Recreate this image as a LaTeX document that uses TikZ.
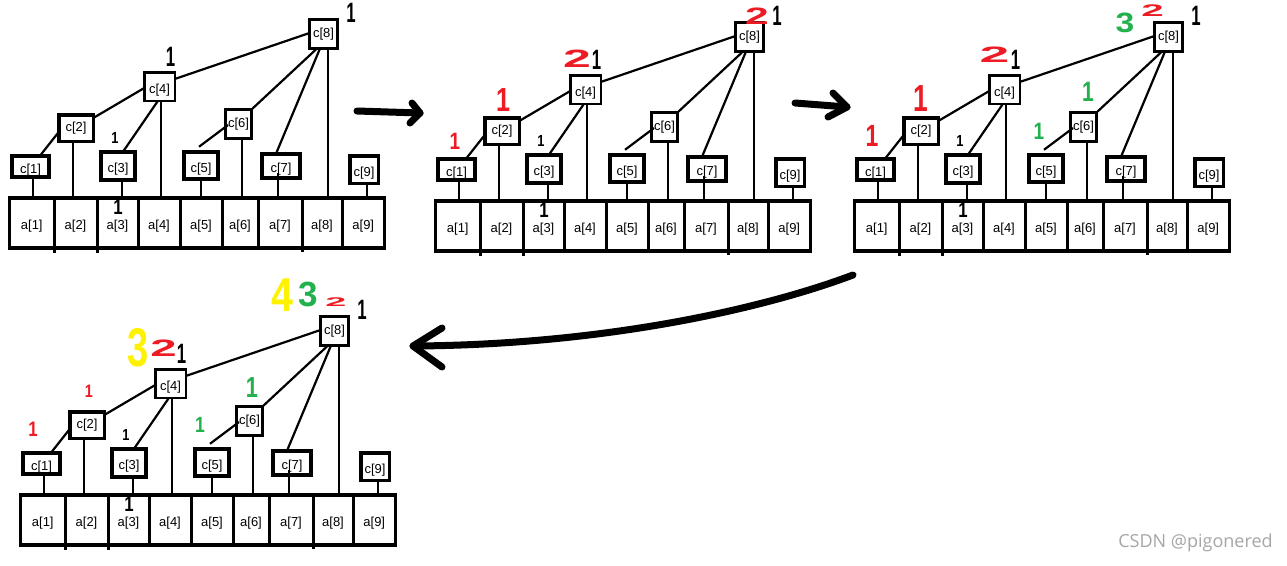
\documentclass[tikz,border=0pt]{standalone}
\usepackage{fontspec}
\usepackage{graphicx}
\setmainfont{Liberation Sans}
\newfontfamily\wmfont{Open Sans}
\newfontfamily\handfont{Liberation Sans}
\newcommand\hfs[1]{\handfont\bfseries\fontsize{#1}{#1}\selectfont}
\definecolor{pred}{RGB}{237,28,36}
\definecolor{pgreen}{RGB}{34,177,76}
\definecolor{pyellow}{RGB}{255,242,0}
\tikzset{
  acell/.style={draw, line width=3pt, rectangle, minimum height=50pt, inner sep=0pt, outer sep=0pt,
    font=\fontsize{13}{13}\selectfont, text height=12pt, text depth=0pt},
  cbox/.style={draw, line width=3.5pt, rectangle, inner sep=0pt, outer sep=0pt,
    font=\fontsize{13}{13}\selectfont},
  lowtext/.style={text height=13pt, text depth=0pt},
  link/.style={line width=2.2pt},
  hwmark/.style={inner sep=0pt, outer sep=0pt},
  bigarrow/.style={line width=7pt, line cap=round, line join=round},
}
\newcommand\hw[7]{\node[hwmark, text=#2, font=\hfs{#5}] (#1) at (#3,#4) {\scalebox{#6}[1]{#7}};}
\newcommand\fwpanel[3]{%
\begin{scope}[shift={(#2,#3)}]
  \foreach \i/\l/\r in {1/9.5/54,2/54/97,3/97/138,4/138/180,5/180/222,6/222/258,7/258/302,8/302/342,9/342/384.5}
    \node[acell, minimum width={(\r-\l)*1pt}] (#1a\i) at ({(\l+\r)/2},223) {a[\i]};
  \draw[line width=3.5pt] (#1a1.north west) rectangle (#1a9.south east);
  \draw[line width=3pt] (#1a1.south east) -- ++(0,5);
  \draw[line width=3pt] (#1a2.south east) -- ++(0,5);
  \draw[line width=3pt] (#1a7.south east) -- ++(0,4);
  \node[cbox, line width=4pt, minimum width=37.5pt, minimum height=21.5pt, lowtext] (#1c1) at (30.5,166.5) {c[1]};
  \node[cbox, minimum width=34.5pt, minimum height=26.5pt] (#1c2) at (76,128) {c[2]};
  \node[cbox, line width=4pt, minimum width=34.5pt, minimum height=28.5pt, lowtext] (#1c3) at (118,166) {c[3]};
  \node[cbox, line width=2.5pt, minimum width=30.5pt, minimum height=28.5pt, lowtext] (#1c4) at (159.5,86.5) {c[4]};
  \node[cbox, line width=4pt, minimum width=34.5pt, minimum height=27.5pt, lowtext] (#1c5) at (201,165.5) {c[5]};
  \node[cbox, line width=3pt, minimum width=26pt, minimum height=29pt] (#1c6) at (238.5,124) {c[6]};
  \node[cbox, line width=4pt, minimum width=38.5pt, minimum height=24.5pt, lowtext] (#1c7) at (281,166) {c[7]};
  \node[cbox, line width=3pt, minimum width=28pt, minimum height=29pt] (#1c8) at (323.5,34) {c[8]};
  \node[cbox, minimum width=28.5pt, minimum height=27.5pt, lowtext] (#1c9) at (364,169.5) {c[9]};
  % vertical links c[i] -> a[i]
  \draw[link] ([xshift=2.5pt]#1c1.south) -- ([xshift=1.25pt]#1a1.north);
  \draw[link] ([xshift=-3pt]#1c2.south) -- ([xshift=-2.5pt]#1a2.north);
  \draw[link] ([xshift=4pt]#1c3.south) -- ([xshift=4.5pt]#1a3.north);
  \draw[link] ([xshift=1.5pt]#1c4.south) -- ([xshift=2pt]#1a4.north);
  \draw[link] (#1c5.south) -- (#1a5.north);
  \draw[link] ([xshift=3.5pt]#1c6.south) -- ([xshift=2pt]#1a6.north);
  \draw[link] ([xshift=-3pt,yshift=-7pt]#1c7.center) -- ([xshift=-2pt]#1a7.north);
  \draw[link] ([xshift=4.5pt]#1c8.south) -- ([xshift=6pt]#1a8.north);
  \draw[link] ([xshift=3pt]#1c9.south) -- ([xshift=3.75pt]#1a9.north);
  % tree links
  \draw[link] ([xshift=9.5pt]#1c1.north) -- ([yshift=-4pt]#1c2.west);
  \draw[link] ([yshift=10pt]#1c2.east) -- ([yshift=-1.5pt]#1c4.west);
  \draw[link] ([xshift=5pt]#1c3.north) -- ([xshift=-1.5pt]#1c4.south);
  \draw[link] ([yshift=7.5pt]#1c4.east) -- ([yshift=1pt]#1c8.west);
  \draw[link] ([xshift=-2pt,yshift=5pt]#1c5.north) -- ([xshift=2.5pt,yshift=-1pt]#1c6.west);
  \draw[link] (#1c6.north east) -- ([xshift=-6.5pt]#1c8.south);
  \draw[link] ([xshift=-5pt]#1c7.north) -- ([xshift=-3.5pt]#1c8.south);
  % black tally marks
  \hw{#1k8}{black}{351}{13}{28}{0.6}{1}
  \hw{#1k4}{black}{170.5}{57}{28}{0.6}{1}
  \hw{#1k3}{black}{115}{138}{16}{0.8}{1}
  \hw{#1ka}{black}{118}{207}{21}{0.8}{1}
\end{scope}}
\begin{document}
\begin{tikzpicture}[x=1pt, y=-1pt]
  \path[use as bounding box, fill=white] (0,0) rectangle (1287,565);
  \fwpanel{p}{0}{0}
  \fwpanel{q}{426}{3}
  \fwpanel{r}{845}{3}
  \fwpanel{s}{11}{297}
  % panel 2 annotations
  \begin{scope}[shift={(426,3)}]
    \hw{q1}{pred}{29}{138.5}{23.7}{0.8}{1}
    \hw{q2}{pred}{77}{97}{33.5}{0.75}{1}
    \hw{q3}{pred}{151}{56}{25}{2.0}{2}
    \hw{q4}{pred}{331}{13.5}{23.7}{1.8}{2}
  \end{scope}
  % panel 3 annotations
  \begin{scope}[shift={(845,3)}]
    \hw{r1}{pred}{27}{133}{30.7}{0.75}{1}
    \hw{r2}{pred}{76}{95.5}{37.7}{0.7}{1}
    \hw{r3}{pred}{149.5}{52}{22.3}{2.4}{2}
    \hw{r4}{pgreen}{243}{89}{28}{0.75}{1}
    \hw{r5}{pgreen}{194}{128.5}{23.7}{0.8}{1}
    \hw{r6}{pgreen}{280}{20}{28}{1.2}{3}
    \hw{r7}{pred}{307.5}{8}{16.8}{2.4}{2}
  \end{scope}
  % panel 4 annotations
  \begin{scope}[shift={(11,297)}]
    \hw{s1}{pred}{22}{132.5}{21}{0.8}{1}
    \hw{s2}{pred}{78}{94.5}{18}{0.8}{1}
    \hw{s3}{pyellow}{127.5}{50.5}{54.5}{0.7}{3}
    \hw{s4}{pred}{152.5}{51.5}{23.7}{2.0}{2}
    \hw{s5}{pgreen}{241}{90.5}{29}{0.75}{1}
    \hw{s6}{pgreen}{189}{128}{22}{0.8}{1}
    \hw{s7}{pyellow}{271.5}{-2}{47.5}{0.83}{4}
    \hw{s8}{pgreen}{297.5}{-2.5}{35}{1.0}{3}
    \hw{s9}{pred}{325}{5.5}{12.6}{3.0}{2}
  \end{scope}
  % arrows between the stages
  \coordinate (ar1s) at (357,111);
  \coordinate (ar1e) at (420,113);
  \draw[bigarrow] (ar1s) -- (ar1e);
  \draw[bigarrow] ([shift={(-8,-10)}]ar1e) -- (ar1e) -- ([shift={(-10,10)}]ar1e);
  \coordinate (ar2s) at (795,103);
  \coordinate (ar2e) at (847,107);
  \draw[bigarrow] (ar2s) -- (ar2e);
  \draw[bigarrow] ([shift={(-14,-14)}]ar2e) -- (ar2e) -- ([shift={(-19,10)}]ar2e);
  \coordinate (ar3s) at (853,275);
  \coordinate (ar3e) at (413,346);
  \draw[bigarrow] (ar3s) .. controls (760,310) and (600,345) .. (ar3e);
  \draw[bigarrow] ([shift={(29,-18)}]ar3e) -- (ar3e) -- ([shift={(29,21)}]ar3e);
  % watermark
  \node[font=\wmfont\fontsize{18}{18}\selectfont, text=gray!70, inner sep=0pt] (wm) at (1195.5,543) {CSDN @pigonered};
\end{tikzpicture}
\end{document}
